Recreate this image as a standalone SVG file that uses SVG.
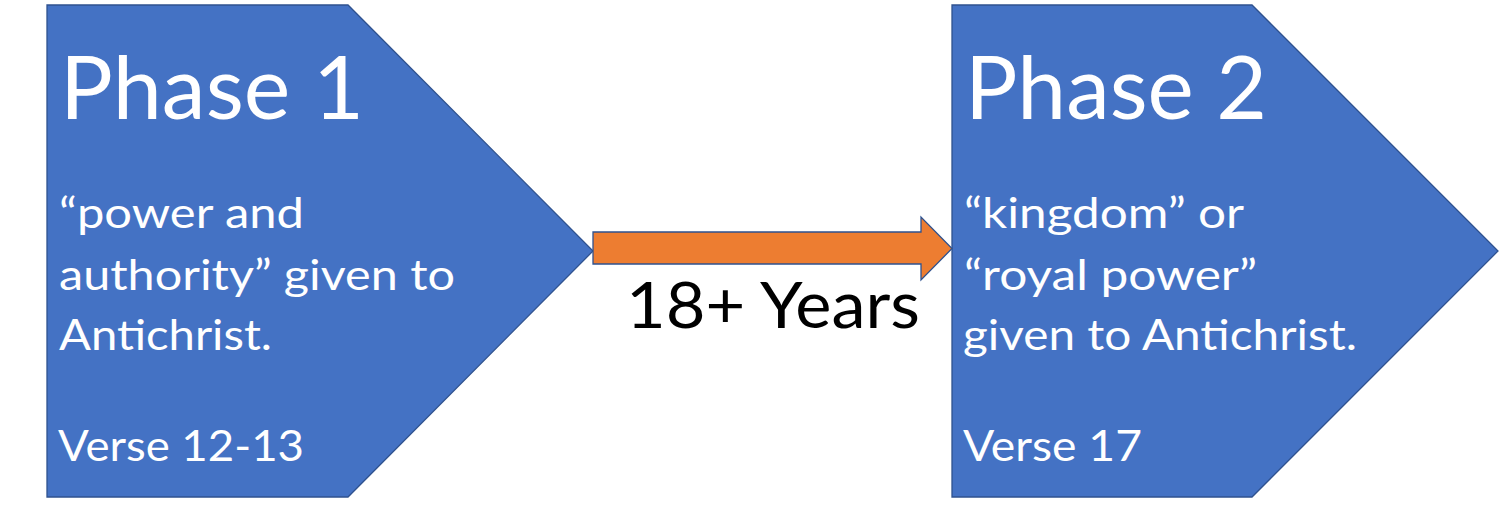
<svg xmlns="http://www.w3.org/2000/svg" width="1500" height="506" viewBox="0 0 1500 506">
<style>
.shape{fill:#4472C4;stroke:#2F528F;stroke-width:1.3}
.arrow{fill:#ED7D31;stroke:#2F528F;stroke-width:1.3}
.t{font-family:Lato,"Open Sans","Liberation Sans",sans-serif;fill:#FFFFFF}
.title{font-size:87px}
.body{font-size:43px}
.lbl{font-family:Lato,"Open Sans","Liberation Sans",sans-serif;fill:#000000;font-size:64px}
</style>
<rect width="1500" height="506" fill="#FFFFFF"/>
<g id="phase1">
<polygon class="shape" points="47,5 348,5 593,251 348,497 47,497"/>
<text class="t title" x="60" y="119" textLength="304" lengthAdjust="spacingAndGlyphs">Phase 1</text>
<text class="t body" x="59" y="228" textLength="245" lengthAdjust="spacingAndGlyphs">“power and</text>
<text class="t body" x="59" y="290" textLength="396" lengthAdjust="spacingAndGlyphs">authority” given to</text>
<text class="t body" x="59" y="350" textLength="213" lengthAdjust="spacingAndGlyphs">Antichrist.</text>
<text class="t body" x="58" y="461" textLength="246" lengthAdjust="spacingAndGlyphs">Verse 12-13</text>
</g>
<g id="phase2">
<polygon class="shape" points="952,5 1252,5 1498,251 1252,497 952,497"/>
<text class="t title" x="965" y="119" textLength="302" lengthAdjust="spacingAndGlyphs">Phase 2</text>
<text class="t body" x="964" y="228" textLength="280" lengthAdjust="spacingAndGlyphs">“kingdom” or</text>
<text class="t body" x="964" y="290" textLength="293" lengthAdjust="spacingAndGlyphs">“royal power”</text>
<text class="t body" x="963" y="350" textLength="394" lengthAdjust="spacingAndGlyphs">given to Antichrist.</text>
<text class="t body" x="963" y="461" textLength="179" lengthAdjust="spacingAndGlyphs">Verse 17</text>
</g>
<g id="connectors">
<polygon class="arrow" points="593,232 921,232 921,217 952,248.5 921,280 921,264 593,264"/>
<text class="lbl" x="626" y="328" textLength="294" lengthAdjust="spacingAndGlyphs">18+ Years</text>
</g>
</svg>
